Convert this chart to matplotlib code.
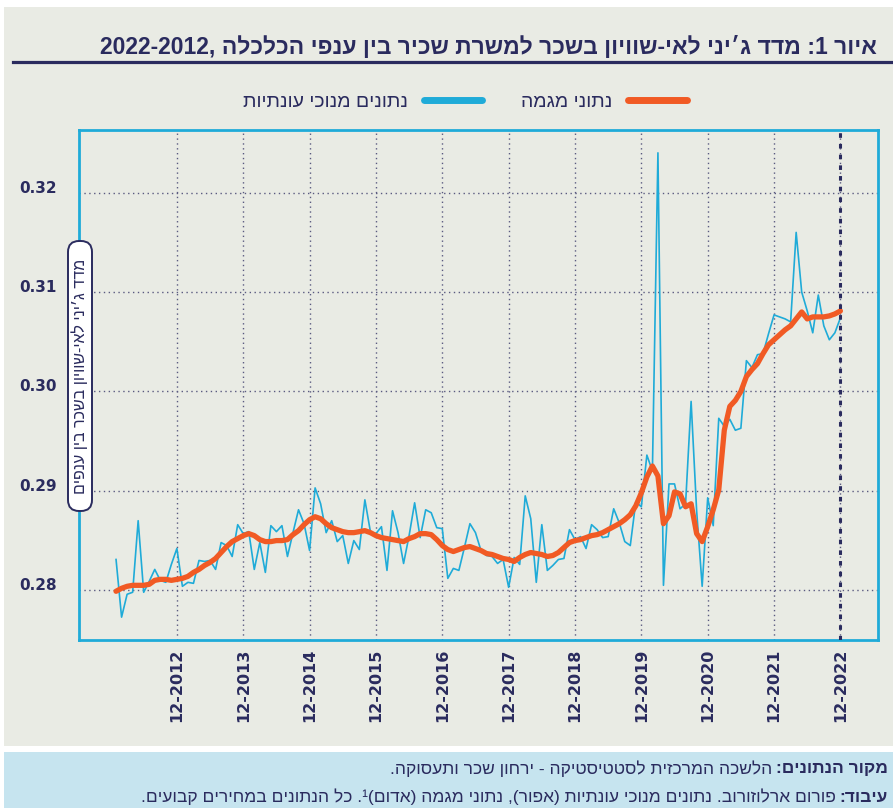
import re
import numpy as np
import matplotlib
matplotlib.use("Agg")
import matplotlib.pyplot as plt
from matplotlib.lines import Line2D
from matplotlib.patches import Rectangle, FancyBboxPatch
from matplotlib.transforms import IdentityTransform

plt.rcParams['font.family'] = ['Liberation Sans', 'DejaVu Sans']

# monthly values, 01-2012 .. 12-2022
tick_labels = ["12-%d" % y for y in range(2012, 2023)]
y_ticks = [0.28, 0.29, 0.30, 0.31, 0.32]

seasonal = [
    0.2831, 0.2773, 0.2796, 0.2798, 0.2870, 0.2798, 0.2809, 0.2821, 0.2810, 0.2808, 0.2826, 0.2842,
    0.2804, 0.2808, 0.2807, 0.2830, 0.2829, 0.2830, 0.2821, 0.2848, 0.2845, 0.2834, 0.2866, 0.2857,
    0.2859, 0.2821, 0.2848, 0.2818, 0.2865, 0.2859, 0.2865, 0.2834, 0.2858, 0.2881, 0.2867, 0.2840,
    0.2903, 0.2887, 0.2858, 0.2870, 0.2849, 0.2855, 0.2827, 0.2850, 0.2841, 0.2891, 0.2859, 0.2857,
    0.2864, 0.2820, 0.2880, 0.2858, 0.2827, 0.2855, 0.2888, 0.2853, 0.2881, 0.2878, 0.2863, 0.2862,
    0.2812, 0.2822, 0.2820, 0.2843, 0.2867, 0.2858, 0.2840, 0.2835, 0.2834, 0.2827, 0.2831, 0.2803,
    0.2833, 0.2826, 0.2895, 0.2872, 0.2808, 0.2866, 0.2820, 0.2825, 0.2831, 0.2832, 0.2861, 0.2851,
    0.2854, 0.2842, 0.2866, 0.2861, 0.2853, 0.2854, 0.2882, 0.2868, 0.2849, 0.2845, 0.2889, 0.2884,
    0.2936, 0.2920, 0.3240, 0.2805, 0.2907, 0.2907, 0.2882, 0.2887, 0.2990, 0.2880, 0.2804, 0.2893,
    0.2865, 0.2973, 0.2965, 0.2972, 0.2961, 0.2963, 0.3031, 0.3024, 0.3037, 0.3038, 0.3058, 0.3077,
    0.3075, 0.3073, 0.3070, 0.3160, 0.3100, 0.3081, 0.3059, 0.3097, 0.3066, 0.3052, 0.3059, 0.3074,
]

trend = [
    0.2799, 0.2802, 0.2804, 0.2805, 0.2805, 0.2805, 0.2806, 0.2810, 0.2811, 0.2811, 0.2810, 0.2811,
    0.2812, 0.2814, 0.2818, 0.2821, 0.2825, 0.2828, 0.2832, 0.2838, 0.2844, 0.2849, 0.2852, 0.2855,
    0.2857, 0.2855, 0.2851, 0.2849, 0.2849, 0.2850, 0.2850, 0.2851, 0.2856, 0.2860, 0.2866, 0.2871,
    0.2874, 0.2872, 0.2867, 0.2863, 0.2861, 0.2859, 0.2858, 0.2858, 0.2859, 0.2860, 0.2858, 0.2855,
    0.2853, 0.2852, 0.2851, 0.2850, 0.2849, 0.2852, 0.2854, 0.2857, 0.2857, 0.2856, 0.2851, 0.2845,
    0.2841, 0.2839, 0.2841, 0.2843, 0.2844, 0.2842, 0.2840, 0.2837, 0.2836, 0.2834, 0.2832, 0.2831,
    0.2829, 0.2833, 0.2836, 0.2838, 0.2837, 0.2836, 0.2834, 0.2835, 0.2838, 0.2843, 0.2848, 0.2850,
    0.2851, 0.2853, 0.2855, 0.2856, 0.2858, 0.2861, 0.2864, 0.2867, 0.2871, 0.2876, 0.2885, 0.2898,
    0.2914, 0.2925, 0.2915, 0.2867, 0.2875, 0.2899, 0.2897, 0.2884, 0.2887, 0.2857, 0.2849, 0.2864,
    0.2881, 0.2901, 0.2961, 0.2985, 0.2991, 0.3000, 0.3015, 0.3022, 0.3028, 0.3038, 0.3047, 0.3052,
    0.3057, 0.3062, 0.3066, 0.3073, 0.3080, 0.3073, 0.3075, 0.3075, 0.3075, 0.3076, 0.3078, 0.3081,
]

NAVY = "#2a2b5e"
ORANGE = "#f15a24"
BLUE = "#1fabd8"
BG = "#e9ebe4"
FOOT = "#c6e4ef"


def rtl(s):
    # visual order for hebrew text (no bidi support in matplotlib)
    s = s[::-1]
    s = re.sub(r'\d+', lambda m: m.group(0)[::-1], s)
    return s.translate(str.maketrans('()', ')('))


W, H = 893, 808
fig = plt.figure(figsize=(W / 100, H / 100), dpi=100, facecolor="white")

# panels
fig.patches.append(Rectangle((4 / W, 1 - 746 / H), 889 / W, 739 / H, transform=fig.transFigure,
                             facecolor=BG, edgecolor="none", zorder=-10))
fig.patches.append(Rectangle((4 / W, 0), 889 / W, 56 / H, transform=fig.transFigure,
                             facecolor=FOOT, edgecolor="none", zorder=-10))

# title
fig.text(877 / W, 1 - 47 / H, "2022-2012, " + rtl("איור 1: מדד ג׳יני לאי-שוויון בשכר למשרת שכיר בין ענפי הכלכלה"),
         ha="right", va="center", fontsize=16.5, fontweight="bold", color=NAVY)
fig.add_artist(Line2D([13 / W, 1], [1 - 61.5 / H] * 2, transform=fig.transFigure, color=NAVY, lw=2.3))

ax = fig.add_axes([79 / W, 1 - 640 / H, 799 / W, 510 / H])
ax.set_zorder(1)
ax.set_facecolor("none")
x = np.arange(len(seasonal))
ax.plot(x, seasonal, color=BLUE, lw=1.2, zorder=3)
ax.plot(x, trend, color=ORANGE, lw=3.8, solid_capstyle="round", solid_joinstyle="round", zorder=4)

tick_pos = [11 + 12 * k for k in range(len(tick_labels))]
ax.set_xlim(-6.7, 137.8)
ax.set_ylim(0.2750, 0.3263)
ax.set_xticks(tick_pos)
ax.set_xticklabels(tick_labels, rotation=90, fontsize=11.5, fontweight="bold", color=NAVY,
                   family="DejaVu Sans")
ax.set_yticks(y_ticks)
ax.set_yticklabels(["%.2f" % v for v in y_ticks], fontsize=11, fontweight="bold", color=NAVY,
                   family="DejaVu Sans", va="baseline")
ax.tick_params(length=0)
ax.tick_params(axis="y", pad=16)
ax.tick_params(axis="x", pad=6)
ax.grid(True, color="#5a5a80", linestyle=(0, (1, 2.5)), lw=1)
ax.axvline(tick_pos[-1], color=NAVY, lw=2.2, linestyle=(0, (1.5, 2)), zorder=5)
for sp in ax.spines.values():
    sp.set_color(BLUE)
    sp.set_linewidth(2)

# y label in rounded box (pixel coords)
fig.patches.append(FancyBboxPatch((68, H - 511), 24, 270, boxstyle="round,pad=0,rounding_size=11",
                                  transform=IdentityTransform(), fc="white", ec=NAVY, lw=1.4, zorder=10))
fig.text(80 / W, 1 - 376 / H, rtl("מדד ג׳יני לאי-שוויון בשכר בין ענפים"), rotation=90,
         ha="center", va="center", fontsize=11.5, color=NAVY, zorder=11)

# legend (marker on the right, rtl)
h_blue = Line2D([], [], color=BLUE, lw=5, solid_capstyle="round")
h_orange = Line2D([], [], color=ORANGE, lw=5, solid_capstyle="round")
fig.legend([h_blue, h_orange], [rtl("נתונים מנוכי עונתיות"), rtl("נתוני מגמה")],
           loc="center", bbox_to_anchor=(465 / W, 1 - 102 / H), ncol=2, frameon=False,
           markerfirst=False, fontsize=14, handlelength=3.0, handletextpad=0.8,
           columnspacing=2.0, labelcolor=NAVY)

# footer: bold label on the right, text continues to the left
renderer = fig.canvas.get_renderer()
footer = [
    ("מקור הנתונים:", " הלשכה המרכזית לסטטיסטיקה - ירחון שכר ותעסוקה.", 769),
    ("עיבוד:", " פורום ארלוזורוב. נתונים מנוכי עונתיות (אפור), נתוני מגמה (אדום)¹. כל הנתונים במחירים קבועים.", 797),
]
for bold, rest, yy in footer:
    t = fig.text(888 / W, 1 - yy / H, rtl(bold), ha="right", va="center", fontsize=12.5,
                 fontweight="bold", color=NAVY)
    bb = t.get_window_extent(renderer)
    fig.text((bb.x0 - 4) / W, 1 - yy / H, rtl(rest.strip()), ha="right", va="center",
             fontsize=12.5, color=NAVY)

fig.savefig("out.png", dpi=100, facecolor="white")
